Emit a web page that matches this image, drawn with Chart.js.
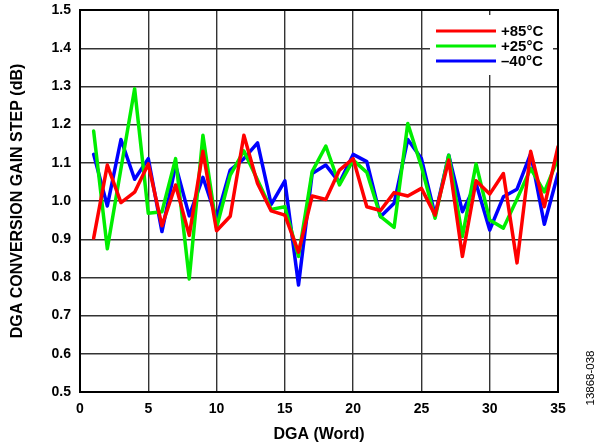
<!DOCTYPE html>
<html>
<head>
<meta charset="utf-8">
<script src="https://cdn.jsdelivr.net/npm/chart.js@4.4.1/dist/chart.umd.min.js"></script>
<style>
  html, body { margin: 0; padding: 0; background: #fff; }
  #wrap { width: 597px; height: 446px; position: relative; }
</style>
</head>
<body>
<div id="wrap"><canvas id="c" width="597" height="446"></canvas></div>
<script>
const dgaWords = [1,2,3,4,5,6,7,8,9,10,11,12,13,14,15,16,17,18,19,20,21,22,23,24,25,26,27,28,29,30,31,32,33,34,35];
const seriesLabels = ['+85°C', '+25°C', '\u201340°C'];
const hot85 = [0.903,1.094,0.996,1.023,1.097,0.935,1.042,0.910,1.130,0.922,0.960,1.172,1.046,0.974,0.963,0.866,1.013,1.004,1.081,1.111,0.985,0.975,1.022,1.013,1.033,0.963,1.107,0.855,1.053,1.018,1.072,0.838,1.130,0.985,1.142];
const room25 = [1.183,0.875,1.085,1.294,0.968,0.972,1.111,0.796,1.172,0.930,1.068,1.131,1.055,0.978,0.985,0.855,1.077,1.144,1.042,1.107,1.075,0.960,0.931,1.203,1.090,0.955,1.120,0.907,1.097,0.950,0.929,1.005,1.085,1.024,1.111];
const cold40 = [1.122,0.987,1.161,1.057,1.111,0.920,1.094,0.961,1.062,0.955,1.081,1.111,1.152,0.991,1.053,0.780,1.072,1.094,1.048,1.122,1.103,0.959,0.994,1.161,1.111,0.963,1.120,0.972,1.046,0.924,1.011,1.031,1.124,0.939,1.072];
const xTicks = [0,5,10,15,20,25,30,35];
const yTicks = [0.5,0.6,0.7,0.8,0.9,1.0,1.1,1.2,1.3,1.4,1.5];
const colors = ['#ff0000', '#00ee00', '#0000ff'];
const FONT = '"Liberation Sans", Arial, sans-serif';

function pts(vals) { return dgaWords.map((x, i) => ({ x: x, y: vals[i] })); }

const frame = {
  id: 'frame',
  afterDatasetsDraw(chart) {
    const { ctx, chartArea: a } = chart;
    ctx.save();
    // legend box
    const bx = 430, by = 15, bw = 123, bh = 60;
    ctx.fillStyle = '#fff';
    ctx.fillRect(bx, by, bw, bh);
    ctx.font = 'bold 15px ' + FONT;
    ctx.textBaseline = 'middle';
    chart.data.datasets.forEach((ds, i) => {
      const y = 31 + i * 15;
      ctx.strokeStyle = ds.borderColor;
      ctx.lineWidth = 3;
      ctx.beginPath();
      ctx.moveTo(436, y);
      ctx.lineTo(496, y);
      ctx.stroke();
      ctx.fillStyle = '#000';
      ctx.fillText(ds.label, 501, y + 1);
    });
    // frame
    ctx.strokeStyle = '#000';
    ctx.lineWidth = 2;
    ctx.strokeRect(a.left, a.top, a.right - a.left, a.bottom - a.top);
    // figure id
    ctx.translate(591, 378);
    ctx.rotate(-Math.PI / 2);
    ctx.font = '11.5px ' + FONT;
    ctx.fillStyle = '#000';
    ctx.textAlign = 'center';
    ctx.textBaseline = 'middle';
    ctx.fillText('13868-038', 0, 0);
    ctx.restore();
  }
};

new Chart(document.getElementById('c'), {
  type: 'line',
  data: {
    datasets: seriesLabels.map((lab, i) => ({
      label: lab,
      data: pts([hot85, room25, cold40][i]),
      borderColor: colors[i],
      backgroundColor: colors[i],
      borderWidth: 3.5,
      borderJoinStyle: 'round',
      borderCapStyle: 'round',
      pointRadius: 0,
      tension: 0,
      fill: false
    }))
  },
  options: {
    responsive: false,
    animation: false,
    devicePixelRatio: 1,
    layout: { padding: { left: 0, right: 39, top: 10, bottom: 0 } },
    plugins: { legend: { display: false }, tooltip: { enabled: false } },
    scales: {
      x: {
        type: 'linear',
        min: 0, max: 35,
        afterBuildTicks(s) { s.ticks = xTicks.map(v => ({ value: v })); },
        afterFit(s) { s.height = 54; s.paddingLeft = 0; s.paddingRight = 0; },
        grid: { color: '#333', lineWidth: 1.4, drawTicks: false },
        border: { color: '#000', width: 2 },
        ticks: { color: '#000', padding: 9, font: { family: FONT, size: 14, weight: 'bold' }, maxRotation: 0 },
        title: { display: true, text: 'DGA (Word)', color: '#000', padding: { top: 3, bottom: 2 }, font: { family: FONT, size: 16, weight: 'bold' } }
      },
      y: {
        min: 0.5, max: 1.5,
        afterBuildTicks(s) { s.ticks = yTicks.map(v => ({ value: v })); },
        afterFit(s) { s.width = 80; s.paddingTop = 0; s.paddingBottom = 0; },
        grid: { color: '#333', lineWidth: 1.4, drawTicks: false },
        border: { color: '#000', width: 2 },
        ticks: { color: '#000', padding: 9, font: { family: FONT, size: 14, weight: 'bold' }, callback: v => Number(v).toFixed(1) },
        title: { display: true, text: 'DGA CONVERSION GAIN STEP (dB)', color: '#000', padding: { top: 8, bottom: 4 }, font: { family: FONT, size: 16, weight: 'bold' } }
      }
    }
  },
  plugins: [frame]
});
</script>
</body>
</html>
